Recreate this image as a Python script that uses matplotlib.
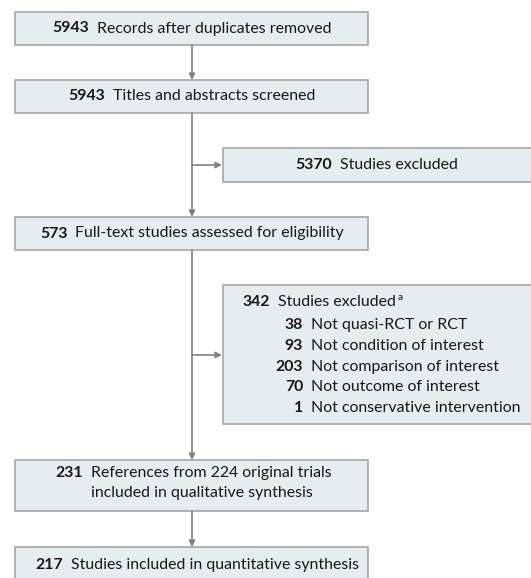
import matplotlib
matplotlib.use("Agg")
import matplotlib.pyplot as plt
from matplotlib.patches import Rectangle

# flow counts and labels
main_counts = [5943, 5943, 573]
main_labels = ["Records after duplicates removed",
               "Titles and abstracts screened",
               "Full-text studies assessed for eligibility"]
excl1_count = 5370
excl1_label = "Studies excluded"
excl2_count = 342
excl2_label = "Studies excluded"
reason_counts = [38, 93, 203, 70, 1]
reason_labels = ["Not quasi-RCT or RCT",
                 "Not condition of interest",
                 "Not comparison of interest",
                 "Not outcome of interest",
                 "Not conservative intervention"]
qual_count = 231
qual_lines = ["References from 224 original trials",
              "included in qualitative synthesis"]
quant_count = 217
quant_label = "Studies included in quantitative synthesis"

plt.rcParams['font.family'] = ['Lato', 'DejaVu Sans']
FS = 11.4
GAP = 8
FILL = '#e6edf1'
EDGE = '#a3a6a8'
ARROW = '#808080'
TXT = '#1a1718'

W, H = 531, 578
fig = plt.figure(figsize=(W / 100, H / 100), dpi=100)
ax = fig.add_axes([0, 0, 1, 1])
ax.set_xlim(0, W)
ax.set_ylim(H, 0)
ax.axis('off')
renderer = fig.canvas.get_renderer()


def box(x0, y0, x1, y1):
    ax.add_patch(Rectangle((x0, y0), x1 - x0, y1 - y0, facecolor=FILL,
                           edgecolor=EDGE, linewidth=1.2))


def width(t):
    bb = t.get_window_extent(renderer)
    return bb.width


def pair(count, label, x, y, center=False):
    # bold number then regular label
    n = ax.text(x, y, str(count), fontsize=FS, fontweight='bold',
                color=TXT, va='center', ha='left')
    nw = width(n)
    t = ax.text(x + nw + GAP, y, label, fontsize=FS, color=TXT,
                va='center', ha='left')
    if center:
        tw = width(t)
        total = nw + GAP + tw
        left = x - total / 2
        n.set_x(left)
        t.set_x(left + nw + GAP)
    return n, t


def varrow(x, y0, y1):
    ax.annotate('', xy=(x, y1), xytext=(x, y0),
                arrowprops=dict(arrowstyle='-|>', color=ARROW, lw=1.2,
                                mutation_scale=9, shrinkA=0, shrinkB=0))


cx = 192
main_boxes = [(12, 45), (80, 113), (217, 250)]
for (y0, y1), c, lab in zip(main_boxes, main_counts, main_labels):
    box(15, y0, 368, y1)
    pair(c, lab, cx, (y0 + y1) / 2, center=True)

# vertical flow
varrow(cx, 45, 80)
varrow(cx, 113, 217)
varrow(cx, 250, 460)
varrow(cx, 511, 547)

# side exclusions
for y in (165, 355):
    ax.annotate('', xy=(222, y), xytext=(cx, y),
                arrowprops=dict(arrowstyle='-|>', color=ARROW, lw=1.2,
                                mutation_scale=9, shrinkA=0, shrinkB=0))

box(223, 148, 540, 182)
pair(excl1_count, excl1_label, 377, 165, center=True)

box(223, 285, 540, 424)
n, t = pair(excl2_count, excl2_label, 243, 302)
tb = t.get_window_extent(renderer)
ax.text(t.get_position()[0] + tb.width + 1, 297, 'a', fontsize=FS * 0.65,
        color=TXT, va='center', ha='left')
for i, (c, lab) in enumerate(zip(reason_counts, reason_labels)):
    y = 325 + i * 20.8
    ax.text(303, y, str(c), fontsize=FS, fontweight='bold', color=TXT,
            va='center', ha='right')
    ax.text(303 + GAP, y, lab, fontsize=FS, color=TXT, va='center',
            ha='left')

box(15, 460, 368, 511)
ax.text(83, 473, str(qual_count), fontsize=FS, fontweight='bold', color=TXT,
        va='center', ha='right')
for i, line in enumerate(qual_lines):
    ax.text(83 + GAP, 473 + i * 20, line, fontsize=FS, color=TXT,
            va='center', ha='left')

box(15, 547, 368, 600)
pair(quant_count, quant_label, 35, 565)

fig.savefig('out.png', dpi=100)
